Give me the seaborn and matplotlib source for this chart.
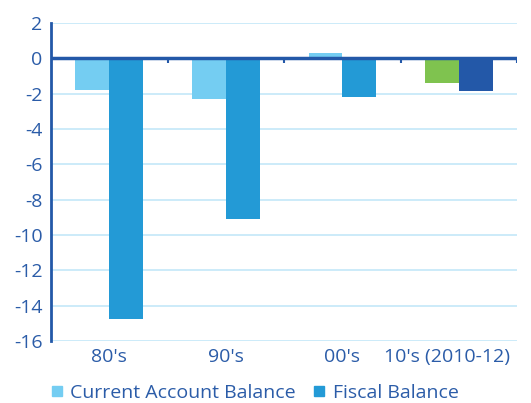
import matplotlib
matplotlib.use("Agg")
import matplotlib.pyplot as plt
from matplotlib.lines import Line2D
from matplotlib.transforms import ScaledTranslation
import pandas as pd
import seaborn as sns

periods = ["80's", "90's", "00's", "10's (2010-12)"]
current_account = [-1.8, -2.3, 0.3, -1.4]
fiscal = [-14.75, -9.1, -2.2, -1.87]
series_names = ["Current Account Balance", "Fiscal Balance"]

TXT = "#2B5CA8"
LIGHT = "#74CDF2"
MID = "#239AD6"
GREEN = "#7FC34F"
DARK = "#2358A8"
GRID = "#C4E7F8"

df = pd.DataFrame({
    "period": periods * 2,
    "value": current_account + fiscal,
    "series": [series_names[0]] * 4 + [series_names[1]] * 4,
})

sns.set_style("white")
plt.rcParams["font.family"] = ["Open Sans", "DejaVu Sans"]
plt.rcParams["axes.unicode_minus"] = False

fig = plt.figure(figsize=(5.31, 4.03), dpi=100)
ax = fig.add_axes([0.096, 0.154, 0.878, 0.789])

sns.barplot(data=df, x="period", y="value", hue="series", order=periods,
            hue_order=series_names, palette=[LIGHT, MID], width=0.58,
            saturation=1, ax=ax, legend=False, linewidth=0)

# last group has its own colours
ax.containers[0][3].set_facecolor(GREEN)
ax.containers[1][3].set_facecolor(DARK)

ax.set_ylim(-16, 2)
ax.set_xlim(-0.5, 3.5)
ax.set_yticks(range(-16, 3, 2))
ax.yaxis.grid(True, color=GRID, lw=1.2)
ax.set_axisbelow(True)
ax.set_xlabel("")
ax.set_ylabel("")

for s in ["top", "right", "bottom"]:
    ax.spines[s].set_visible(False)
ax.spines["left"].set_color(DARK)
ax.spines["left"].set_linewidth(2)

ax.axhline(0, color=DARK, lw=2.5, zorder=3)
ax.vlines([-0.5, 0.5, 1.5, 2.5, 3.5], -0.25, 0, color=DARK, lw=1.5, zorder=3)

ax.tick_params(axis="y", colors=DARK, labelcolor=TXT, length=4, width=1.5,
               labelsize=14, pad=2)
ax.tick_params(axis="x", length=0, labelcolor=TXT, labelsize=14, pad=5)

# nudge last label left so it stays inside
last = ax.get_xticklabels()[-1]
last.set_transform(last.get_transform() + ScaledTranslation(-0.12, 0, fig.dpi_scale_trans))

handles = [Line2D([], [], marker="s", ls="", color=c, markersize=7)
           for c in [LIGHT, MID]]
fig.legend(handles, series_names, loc="center", bbox_to_anchor=(0.478, 0.026),
           ncol=2, frameon=False, fontsize=14, labelcolor=TXT,
           handletextpad=0.3, columnspacing=0.8, handlelength=0.8)

fig.savefig("out.png", dpi=100)
